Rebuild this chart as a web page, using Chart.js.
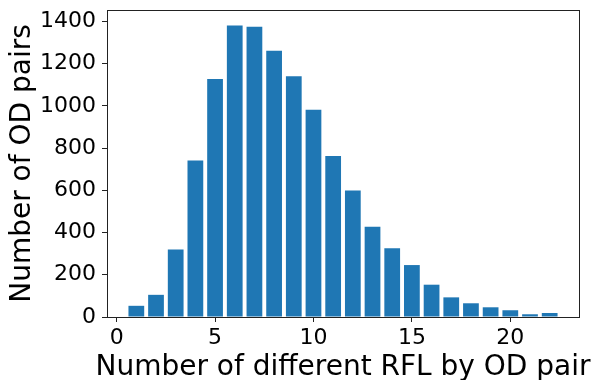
<!DOCTYPE html>
<html>
<head>
<meta charset="utf-8">
<script src="https://cdn.jsdelivr.net/npm/chart.js@4.4.1/dist/chart.umd.min.js"></script>
<style>
  html, body { margin: 0; padding: 0; background: #fff; }
  #wrap { width: 597px; height: 380px; }
</style>
</head>
<body>
<div id="wrap"><canvas id="myChart"></canvas></div>
<script>
const rflCounts = [1, 2, 3, 4, 5, 6, 7, 8, 9, 10, 11, 12, 13, 14, 15, 16, 17, 18, 19, 20, 21, 22];
const odPairs = [53, 105, 320, 741, 1127, 1381, 1375, 1261, 1140, 982, 762, 599, 427, 326, 246, 153, 93, 65, 46, 32, 13, 19];
const xTicks = [0, 5, 10, 15, 20];
const yTicks = [0, 200, 400, 600, 800, 1000, 1200, 1400];
const xTitle = 'Number of different RFL by OD pair';
const yTitle = 'Number of OD pairs';

// box around the plot area, plus the x title (Chart.js squeezes titles wider than the axis)
const frame = {
  id: 'frame',
  afterDraw(chart) {
    const { ctx, chartArea: a } = chart;
    ctx.save();
    ctx.strokeStyle = '#222';
    ctx.lineWidth = 1;
    ctx.strokeRect(a.left + 0.5, a.top + 0.5, a.right - a.left, a.bottom - a.top);
    ctx.fillStyle = '#000';
    ctx.font = '28px "DejaVu Sans"';
    ctx.textAlign = 'center';
    ctx.textBaseline = 'alphabetic';
    ctx.fillText(xTitle, (a.left + a.right) / 2, 375);
    ctx.restore();
  },
};

const tickFont = { family: 'DejaVu Sans', size: 22 };

new Chart(document.getElementById('myChart'), {
  type: 'bar',
  data: {
    datasets: [
      {
        data: rflCounts.map((x, i) => ({ x, y: odPairs[i] })),
        backgroundColor: '#1f77b4',
        borderWidth: 0,
        barPercentage: 0.8,
        categoryPercentage: 1,
      },
    ],
  },
  options: {
    responsive: true,
    maintainAspectRatio: false,
    animation: false,
    layout: { padding: { top: 10, right: 18, left: 0, bottom: 0 } },
    plugins: { legend: { display: false }, tooltip: { enabled: false } },
    scales: {
      x: {
        type: 'linear',
        offset: false,
        min: -0.49,
        max: 23.49,
        afterBuildTicks: (scale) => { scale.ticks = xTicks.map((v) => ({ value: v })); },
        afterFit: (scale) => { scale.height = 63; scale.paddingLeft = 0; scale.paddingRight = 0; },
        grid: { drawOnChartArea: false, offset: false, tickLength: 5, color: '#222' },
        border: { color: '#222' },
        ticks: { font: tickFont, color: '#000', padding: 3, maxRotation: 0 },
        title: { display: false },
      },
      y: {
        min: 0,
        max: 1454,
        afterBuildTicks: (scale) => { scale.ticks = yTicks.map((v) => ({ value: v })); },
        afterFit: (scale) => { scale.width = 107; scale.paddingTop = 0; scale.paddingBottom = 0; },
        grid: { drawOnChartArea: false, tickLength: 5, color: '#222' },
        border: { color: '#222' },
        ticks: { font: tickFont, color: '#000', padding: 6, callback: (v) => String(v) },
        title: {
          display: true,
          text: yTitle,
          font: { family: 'DejaVu Sans', size: 28 },
          color: '#000',
          padding: { top: 6, bottom: 0 },
        },
      },
    },
  },
  plugins: [frame],
});
</script>
</body>
</html>
